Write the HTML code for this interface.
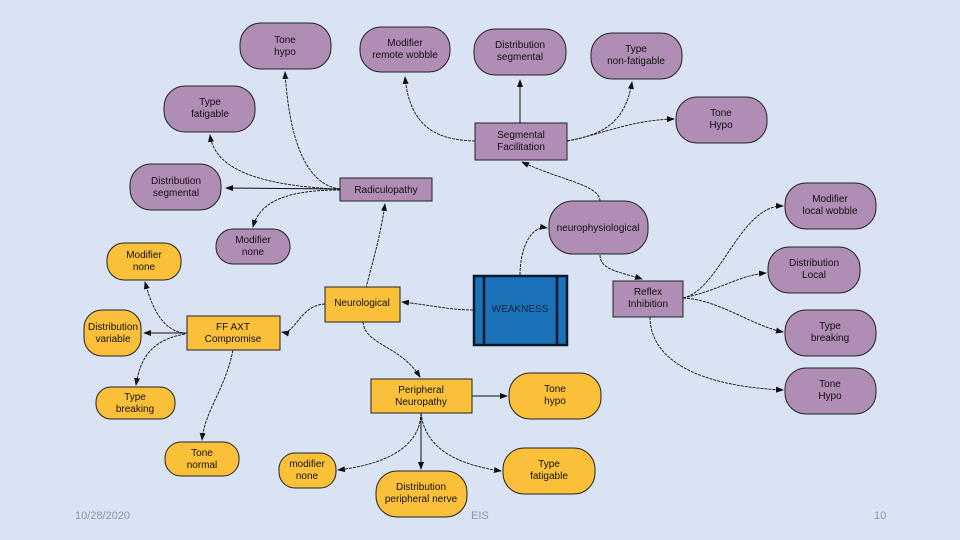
<!DOCTYPE html>
<html><head><meta charset="utf-8"><style>
body{margin:0;background:#dae3f3;}
svg{display:block;font-family:"Liberation Sans",sans-serif;}
.p{fill:#b08db4;stroke:#222;stroke-width:1}
.y{fill:#fbc03a;stroke:#222;stroke-width:1}
.r{stroke:#222;stroke-width:1}
text{font-size:10px;fill:#111;text-anchor:middle}
.e{fill:none;stroke:#111;stroke-width:0.9;stroke-dasharray:3 1;marker-end:url(#a)}
.s{fill:none;stroke:#111;stroke-width:1;marker-end:url(#a)}
.f{font-size:11px;fill:#8a94a6;text-anchor:start}
</style></head><body>
<svg width="960" height="540" viewBox="0 0 960 540">
<defs><marker id="a" markerWidth="8" markerHeight="8" refX="7" refY="3" orient="auto" markerUnits="userSpaceOnUse"><path d="M0,0 L8,3 L0,6z" fill="#111"/></marker></defs>
<rect width="960" height="540" fill="#dae3f3"/>
<!-- edges -->
<path class="e" d="M340,189 C310,185 290,150 285,72"/>
<path class="e" d="M335,189 C260,185 215,170 210,135"/>
<path class="s" d="M340,189 L226,188"/>
<path class="e" d="M340,190 C290,190 260,200 253,227"/>
<path class="e" d="M363,300 C370,270 380,240 385,204"/>
<path class="e" d="M475,141 C440,140 410,130 405,77"/>
<path class="s" d="M520,123 L520,80"/>
<path class="e" d="M567,141 C600,135 625,125 632,82"/>
<path class="e" d="M567,141 C600,135 630,120 674,119"/>
<path class="e" d="M600,201 C600,185 560,180 522,162"/>
<path class="e" d="M520,275 C520,250 530,225 547,228"/>
<path class="e" d="M600,255 C600,270 620,272 642,279"/>
<path class="e" d="M683,298 C720,290 740,205 783,206"/>
<path class="e" d="M683,298 C720,290 740,275 766,273"/>
<path class="e" d="M683,298 C720,300 750,325 783,332"/>
<path class="e" d="M650,317 C650,350 680,385 783,390"/>
<path class="e" d="M473,310 C450,310 430,305 402,302"/>
<path class="e" d="M325,304 C300,305 295,335 282,332"/>
<path class="e" d="M363,322 C365,345 400,345 420,377"/>
<path class="s" d="M472,396 L507,396"/>
<path class="s" d="M421,413 L421,469"/>
<path class="e" d="M421,413 C420,450 380,465 338,470"/>
<path class="e" d="M421,413 C425,450 460,465 501,471"/>
<path class="e" d="M187,333 C160,333 150,300 145,282"/>
<path class="s" d="M187,333 L144,333"/>
<path class="e" d="M185,334 C150,340 140,360 136,385"/>
<path class="e" d="M233,350 C225,390 205,410 202,440"/>
<!-- purple nodes -->
<rect class="p" x="240" y="23" width="91" height="46" rx="21"/><text x="285" y="43">Tone</text><text x="285" y="55">hypo</text>
<rect class="p" x="360" y="27" width="90" height="45" rx="21"/><text x="405" y="46">Modifier</text><text x="405" y="58">remote wobble</text>
<rect class="p" x="474" y="29" width="92" height="46" rx="21"/><text x="520" y="48">Distribution</text><text x="520" y="60">segmental</text>
<rect class="p" x="591" y="33" width="91" height="46" rx="21"/><text x="636" y="52">Type</text><text x="636" y="64">non-fatigable</text>
<rect class="p" x="676" y="97" width="91" height="46" rx="21"/><text x="721" y="116">Tone</text><text x="721" y="128">Hypo</text>
<rect class="p" x="164" y="86" width="91" height="46" rx="21"/><text x="210" y="105">Type</text><text x="210" y="117">fatigable</text>
<rect class="p" x="130" y="164" width="91" height="46" rx="21"/><text x="176" y="184">Distribution</text><text x="176" y="196">segmental</text>
<rect class="p" x="216" y="229" width="74" height="35" rx="17"/><text x="253" y="243">Modifier</text><text x="253" y="255">none</text>
<rect class="p" x="340" y="178" width="92" height="23"/><text x="386" y="193">Radiculopathy</text>
<rect class="p r" x="475" y="123" width="92" height="37"/><text x="521" y="138">Segmental</text><text x="521" y="150">Facilitation</text>
<rect class="p" x="549" y="201" width="99" height="53" rx="24"/><text x="598" y="231">neurophysiological</text>
<rect class="p" x="785" y="183" width="91" height="46" rx="21"/><text x="830" y="202">Modifier</text><text x="830" y="214">local wobble</text>
<rect class="p" x="768" y="247" width="92" height="46" rx="21"/><text x="814" y="266">Distribution</text><text x="814" y="278">Local</text>
<rect class="p" x="785" y="310" width="91" height="46" rx="21"/><text x="830" y="329">Type</text><text x="830" y="341">breaking</text>
<rect class="p" x="785" y="368" width="91" height="46" rx="21"/><text x="830" y="387">Tone</text><text x="830" y="399">Hypo</text>
<rect class="p r" x="613" y="281" width="70" height="36"/><text x="648" y="295">Reflex</text><text x="648" y="307">Inhibition</text>
<!-- weakness -->
<rect x="474" y="276" width="93" height="69" fill="#1b72b8" stroke="#0d1a2e" stroke-width="2.5"/>
<line x1="484" y1="276" x2="484" y2="345" stroke="#0d1a2e" stroke-width="2.5"/>
<line x1="557" y1="276" x2="557" y2="345" stroke="#0d1a2e" stroke-width="2.5"/>
<text x="520" y="312" style="fill:#0d2440">WEAKNESS</text>
<!-- yellow -->
<rect class="y" x="325" y="287" width="75" height="35"/><text x="362" y="306">Neurological</text>
<rect class="y" x="187" y="316" width="93" height="34"/><text x="233" y="330">FF AXT</text><text x="233" y="342">Compromise</text>
<rect class="y" x="107" y="243" width="74" height="37" rx="17"/><text x="144" y="258">Modifier</text><text x="144" y="270">none</text>
<rect class="y" x="84" y="310" width="57" height="46" rx="18"/><text x="113" y="330">Distribution</text><text x="113" y="342">variable</text>
<rect class="y" x="96" y="387" width="79" height="32" rx="15"/><text x="135" y="400">Type</text><text x="135" y="412">breaking</text>
<rect class="y" x="165" y="442" width="74" height="34" rx="16"/><text x="202" y="456">Tone</text><text x="202" y="468">normal</text>
<rect class="y" x="371" y="379" width="101" height="34"/><text x="421" y="393">Peripheral</text><text x="421" y="405">Neuropathy</text>
<rect class="y" x="509" y="373" width="92" height="46" rx="21"/><text x="555" y="392">Tone</text><text x="555" y="404">hypo</text>
<rect class="y" x="279" y="453" width="57" height="35" rx="16"/><text x="307" y="467">modifier</text><text x="307" y="479">none</text>
<rect class="y" x="376" y="471" width="91" height="46" rx="21"/><text x="421" y="490">Distribution</text><text x="421" y="502">peripheral nerve</text>
<rect class="y" x="503" y="448" width="92" height="46" rx="21"/><text x="549" y="467">Type</text><text x="549" y="479">fatigable</text>
<text class="f" x="75" y="519">10/28/2020</text>
<text class="f" x="471" y="519">EIS</text>
<text class="f" x="874" y="519">10</text>
</svg>
</body></html>
